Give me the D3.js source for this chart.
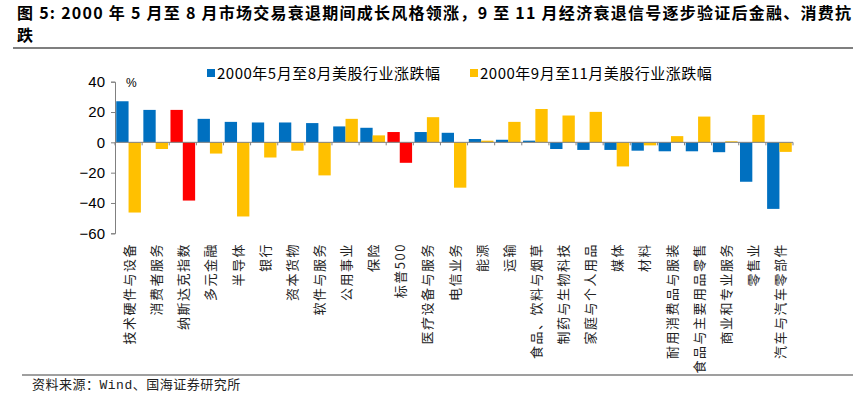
<!DOCTYPE html>
<html>
<head>
<meta charset="utf-8">
<script src="https://cdn.jsdelivr.net/npm/d3@7"></script>
<style>
  body { margin: 0; background: #fff; }
  svg { display: block; font-family: "Noto Sans CJK SC", "Liberation Sans", sans-serif; }
</style>
</head>
<body>
<script>
// 行业名称
const categorias = ["技术硬件与设备", "消费者服务", "纳斯达克指数", "多元金融", "半导体", "银行", "资本货物",
  "软件与服务", "公用事业", "保险", "标普500", "医疗设备与服务", "电信业务", "能源", "运输",
  "食品、饮料与烟草", "制药与生物科技", "家庭与个人用品", "媒体", "材料", "耐用消费品与服装",
  "食品与主要用品零售", "商业和专业服务", "零售业", "汽车与汽车零部件"];

// 2000年5月至8月涨跌幅 (%)
const serie1 = [27.1, 21.4, 21.4, 15.5, 13.5, 13.1, 13.1, 12.7, 10.5, 9.6, 6.8, 6.8, 6.3, 2.2, 1.7,
  1.1, -4.4, -5.0, -5.0, -5.5, -5.9, -5.9, -6.5, -26.0, -43.9];

// 2000年9月至11月涨跌幅 (%)
const serie2 = [-46.3, -4.4, -38.4, -7.4, -48.9, -10.0, -5.5, -21.8, 15.5, 4.6, -13.5, 16.6, -29.9, 1.1, 13.5,
  22.0, 17.7, 20.1, -15.9, -2.0, 4.1, 17.0, 0.7, 18.1, -6.3];

const nombres = ["2000年5月至8月美股行业涨跌幅", "2000年9月至11月美股行业涨跌幅"];
const ticksY = [40, 20, 0, -20, -40, -60];
// 指数用红色
const indices = ["纳斯达克指数", "标普500"];

const ancho = 868, alto = 395;
const svg = d3.select("body").append("svg").attr("width", ancho).attr("height", alto);

// 标题
const titulo = svg.append("text").attr("x", 17).attr("font-weight", "bold").attr("font-size", 16).attr("fill", "#000");
titulo.append("tspan").attr("x", 17).attr("y", 19)
  .attr("textLength", 834).attr("lengthAdjust", "spacing")
  .text("图 5:  2000 年 5 月至 8 月市场交易衰退期间成长风格领涨，9 至 11 月经济衰退信号逐步验证后金融、消费抗");
titulo.append("tspan").attr("x", 17).attr("y", 41).text("跌");

svg.append("line").attr("x1", 13).attr("x2", 853).attr("y1", 48).attr("y2", 48)
  .attr("stroke", "#7f7f7f").attr("stroke-width", 2);
svg.append("line").attr("x1", 22).attr("x2", 853).attr("y1", 375).attr("y2", 375)
  .attr("stroke", "#7f7f7f").attr("stroke-width", 1.5);
svg.append("text").attr("x", 32).attr("y", 389).attr("font-size", 13).attr("fill", "#222")
  .style("font-family", "'Liberation Mono', 'Noto Sans CJK SC', monospace")
  .style("letter-spacing", "0.5px")
  .text("资料来源：Wind、国海证券研究所");

// 比例尺
const x = d3.scaleBand().domain(categorias).range([115, 793]).paddingInner(0).paddingOuter(0);
const y = d3.scaleLinear().domain([-60, 40]).range([233.3, 81.7]);
const sub = d3.scaleBand().domain([0, 1]).range([0, x.bandwidth()]).paddingInner(0).paddingOuter(0.1);

const colores = ["#0070C0", "#FFC000"];

const datos = [];
categorias.forEach((c, i) => {
  [serie1[i], serie2[i]].forEach((v, s) => datos.push({ c, s, v }));
});

svg.append("g").selectAll("rect").data(datos).join("rect")
  .attr("x", d => x(d.c) + sub(d.s))
  .attr("width", sub.bandwidth())
  .attr("y", d => y(Math.max(0, d.v)))
  .attr("height", d => Math.abs(y(d.v) - y(0)))
  .attr("fill", d => indices.includes(d.c) ? "#FF0000" : colores[d.s]);

// Y 轴
const ejeY = svg.append("g").attr("transform", "translate(115,0)")
  .call(d3.axisLeft(y).tickValues(ticksY).tickSize(4).tickPadding(6).tickFormat(d => d < 0 ? "−" + Math.abs(d) : d));
ejeY.selectAll("text").attr("font-size", 15).attr("fill", "#000").style("font-family", "'Liberation Sans', Arial, sans-serif");
ejeY.selectAll("line, path").attr("stroke", "#808080");

svg.append("text").attr("x", 126).attr("y", 87).attr("font-size", 12).attr("fill", "#000")
  .style("font-family", "'Liberation Sans', Arial, sans-serif").text("%");

// X 轴（零线）
const ejeX = svg.append("g").attr("transform", `translate(0,${y(0)})`);
ejeX.append("line").attr("x1", 115).attr("x2", 793).attr("stroke", "#808080");
ejeX.selectAll("line.tick").data(categorias.concat([null])).join("line").attr("class", "tick")
  .attr("x1", (d, i) => i < categorias.length ? x(d) : 793)
  .attr("x2", (d, i) => i < categorias.length ? x(d) : 793)
  .attr("y1", 0).attr("y2", 3).attr("stroke", "#808080");

// 旋转标签（自下而上）
svg.append("g").selectAll("text").data(categorias).join("text")
  .attr("transform", d => `translate(${x(d) + x.bandwidth() / 2 + 1},243) rotate(-90)`)
  .attr("text-anchor", "end")
  .attr("dy", "0.35em")
  .attr("font-size", 13)
  .attr("fill", "#222")
  .style("letter-spacing", "1.5px")
  .text(d => d);

// 图例
const leyenda = svg.append("g");
const posLeyenda = [207, 470];
nombres.forEach((n, i) => {
  leyenda.append("rect").attr("x", posLeyenda[i]).attr("y", 69).attr("width", 8).attr("height", 8).attr("fill", colores[i]);
  leyenda.append("text").attr("x", posLeyenda[i] + 10).attr("y", 79).attr("font-size", 15).attr("fill", "#000")
    .style("letter-spacing", "0.5px").text(n);
});
</script>
</body>
</html>
